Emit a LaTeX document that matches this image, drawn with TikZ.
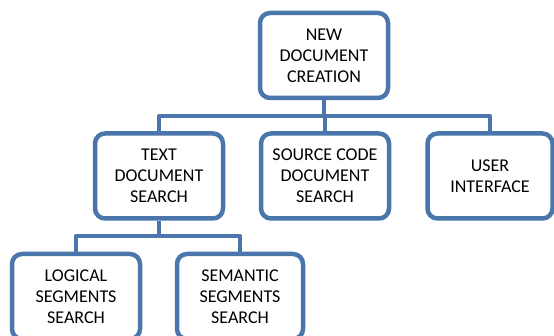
\documentclass[tikz,border=0pt]{standalone}
\usepackage{fontspec}
\setmainfont{Carlito}
\definecolor{boxblue}{RGB}{74,118,172}
\begin{document}
\begin{tikzpicture}[x=1pt,y=-1pt,
  box/.style={draw=boxblue, line width=4.5pt, rounded corners=10pt, fill=white,
    align=center, inner sep=0pt, minimum height=85pt,
    font=\fontsize{18}{21}\selectfont},
  link/.style={draw=boxblue, line width=4.5pt, line join=round}]
\useasboundingbox (0,0) rectangle (554,336);
\begin{scope}
\clip (0,0) rectangle (554,336);
% tree nodes
\node[box, minimum width=128pt] (top) at (324,55.5) {NEW\\DOCUMENT\\CREATION};
\node[box, minimum width=128pt] (text) at (159,176) {TEXT\\DOCUMENT\\SEARCH};
\node[box, minimum width=128pt] (src) at (325,176) {SOURCE CODE\\DOCUMENT\\SEARCH};
\node[box, minimum width=125pt] (ui) at (490,176) {USER\\INTERFACE};
\node[box, minimum width=128pt] (logic) at (76,296.5) {LOGICAL\\SEGMENTS\\SEARCH};
\node[box, minimum width=126pt] (sem) at (240,296.5) {SEMANTIC\\SEGMENTS\\SEARCH};
% connectors
\coordinate (bus1) at (325,116);
\coordinate (bus2) at (159,236);
\draw[link] (top.south) |- (bus1);
\draw[link] (text.north) |- (bus1) -| (ui.north);
\draw[link] (bus1) -- (src.north);
\draw[link] (text.south) |- (bus2);
\draw[link] (logic.north) |- (bus2) -| (sem.north);
\end{scope}
\end{tikzpicture}
\end{document}
